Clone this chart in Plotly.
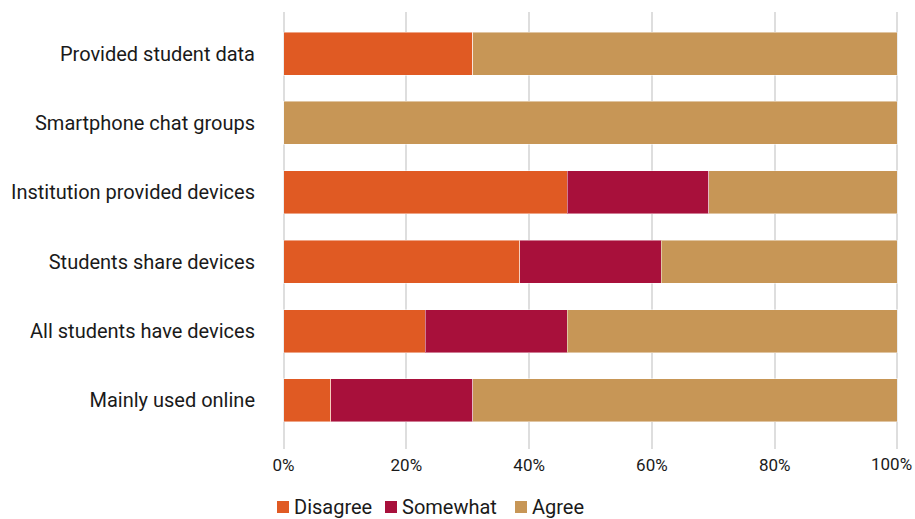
import plotly.graph_objects as go

# Survey statements, listed bottom-to-top as they appear on the y axis
statements = [
    "Mainly used online",
    "All students have devices",
    "Students share devices",
    "Institution provided devices",
    "Smartphone chat groups",
    "Provided student data",
]

# Share of responses per statement (%)
disagree = [7.7, 23.1, 38.5, 46.2, 0.0, 30.8]
somewhat = [23.1, 23.1, 23.0, 23.1, 0.0, 0.0]
agree = [69.2, 53.8, 38.5, 30.7, 100.0, 69.2]

x_ticks = [0, 20, 40, 60, 80, 100]
x_tick_labels = ["0%", "20%", "40%", "60%", "80%", "100%"]

series = [
    ("Disagree", disagree, "#E05A23"),
    ("Somewhat", somewhat, "#A8103B"),
    ("Agree", agree, "#C79656"),
]

FONT = "Roboto"
TEXT = "#1a1a1a"
W, H = 915, 519
M_L, M_R, M_T, M_B = 282, 16, 12, 70
X_RANGE = [-0.25, 100.25]

fig = go.Figure()
for name, values, color in series:
    fig.add_trace(go.Bar(
        name=name,
        y=statements,
        x=values,
        orientation="h",
        marker=dict(color=color, line=dict(color="rgba(255,255,255,0.45)", width=1)),
        width=0.62,
        hoverinfo="x+y+name",
        showlegend=False,
    ))

plot_w = W - M_L - M_R
plot_h = H - M_T - M_B

# The last tick label is pulled inside the right edge so it is not clipped
axis_labels = list(x_tick_labels)
last_label = axis_labels[-1]
axis_labels[-1] = ""
fig.add_annotation(
    xref="paper", yref="paper",
    x=(W - 1 - M_L) / plot_w, y=0,
    xanchor="right", yanchor="middle", yshift=-15,
    text=last_label, showarrow=False,
    font=dict(family=FONT, size=17, color=TEXT),
)

# Compact legend under the chart: small square swatch followed by its label
legend_left_px = [277, 385, 515]
legend_y = 1 - (507 - M_T) / plot_h
for (name, _, color), left in zip(series, legend_left_px):
    fig.add_shape(
        type="rect", xref="paper", yref="paper",
        x0=(left - M_L) / plot_w, x1=(left + 12 - M_L) / plot_w,
        y0=legend_y - 6 / plot_h, y1=legend_y + 6 / plot_h,
        fillcolor=color, line=dict(width=0),
    )
    fig.add_annotation(
        xref="paper", yref="paper",
        x=(left + 15 - M_L) / plot_w, y=legend_y,
        xanchor="left", yanchor="middle",
        text=name, showarrow=False,
        font=dict(family=FONT, size=20, color=TEXT),
    )

fig.update_layout(
    barmode="stack",
    width=W,
    height=H,
    margin=dict(l=M_L, r=M_R, t=M_T, b=M_B, autoexpand=False),
    paper_bgcolor="white",
    plot_bgcolor="white",
    font=dict(family=FONT, size=18, color=TEXT),
    xaxis=dict(
        range=X_RANGE,
        tickvals=x_ticks,
        ticktext=axis_labels,
        showgrid=True,
        gridcolor="#dedede",
        gridwidth=1.5,
        zeroline=False,
        showline=False,
        ticks="outside",
        ticklen=1,
        tickcolor="rgba(0,0,0,0)",
        tickfont=dict(family=FONT, size=17, color=TEXT),
    ),
    yaxis=dict(
        type="category",
        categoryorder="array",
        categoryarray=statements,
        range=[-0.7, 5.6],
        showgrid=False,
        zeroline=False,
        showline=False,
        ticks="outside",
        ticklen=22,
        tickcolor="rgba(0,0,0,0)",
        tickfont=dict(family=FONT, size=20, color=TEXT),
    ),
)

fig.write_html("out.html")
